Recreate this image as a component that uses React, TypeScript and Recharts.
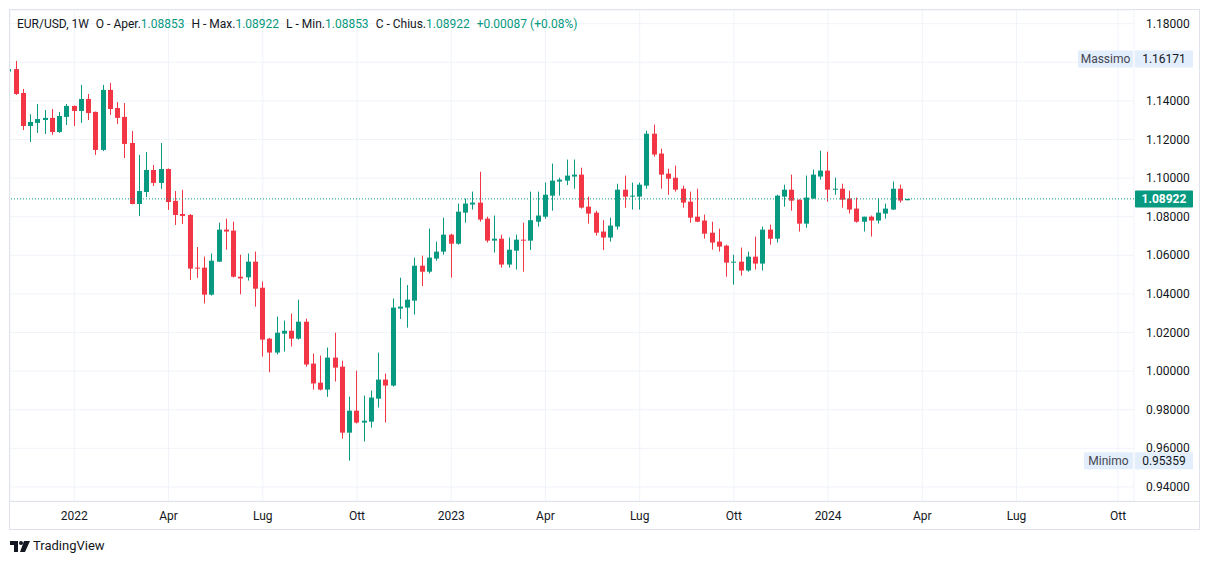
import React from 'react';
import { ComposedChart, Bar, XAxis, YAxis, CartesianGrid, ReferenceLine } from 'recharts';

// Weekly EUR/USD candles, week index 0 = 1 Nov 2021
const opens = [
  1.1552, 1.1565, 1.1441, 1.1270, 1.1286, 1.1301, 1.1312, 1.1239, 1.1317, 1.1374,
  1.1348, 1.1410, 1.1343, 1.1146, 1.1457, 1.1363, 1.1317, 1.1182, 1.0866, 1.0928,
  1.1042, 1.0975, 1.1047, 1.0882, 1.0814, 1.0809, 1.0536, 1.0536, 1.0396, 1.0567,
  1.0733, 1.0728, 1.0489, 1.0486, 1.0567, 1.0432, 1.0168, 1.0096, 1.0194, 1.0209,
  1.0168, 1.0256, 1.0039, 0.9940, 0.9904, 1.0070, 1.0023, 0.9681, 0.9795, 0.9733,
  0.9738, 0.9857, 0.9956, 0.9925, 1.0324, 1.0329, 1.0365, 1.0546, 1.0515, 1.0583,
  1.0619, 1.0707, 1.0660, 1.0821, 1.0863, 1.0873, 1.0790, 1.0676, 1.0686, 1.0552,
  1.0624, 1.0681, 1.0676, 1.0774, 1.0800, 1.0909, 1.0982, 1.0987, 1.1008, 1.1018,
  1.0852, 1.0821, 1.0723, 1.0692, 1.0749, 1.0940, 1.0904, 1.0904, 1.0961, 1.1230,
  1.1127, 1.1023, 1.1002, 1.0945, 1.0878, 1.0800, 1.0780, 1.0717, 1.0671, 1.0650,
  1.0562, 1.0567, 1.0521, 1.0593, 1.0557, 1.0733, 1.0686, 1.0904, 1.0940, 1.0888,
  1.0764, 1.0894, 1.1008, 1.1039, 1.0940, 1.0945, 1.0894, 1.0842, 1.0774, 1.0800,
  1.0780, 1.0816, 1.0837, 1.0945, 1.08853,
];
const highs = [
  1.16171, 1.1607, 1.1462, 1.1331, 1.1384, 1.1353, 1.1358, 1.1343, 1.1384, 1.1376,
  1.1483, 1.1436, 1.1345, 1.1483, 1.1493, 1.1394, 1.1389, 1.1244, 1.1120, 1.1135,
  1.1068, 1.1182, 1.1050, 1.0933, 1.0939, 1.0814, 1.0643, 1.0593, 1.0609, 1.0769,
  1.0790, 1.0774, 1.0603, 1.0609, 1.0619, 1.0464, 1.0172, 1.0282, 1.0262, 1.0298,
  1.0370, 1.0272, 1.0091, 1.0080, 1.0122, 1.0199, 1.0054, 0.9868, 1.0002, 0.9873,
  0.9899, 1.0096, 0.9987, 1.0376, 1.0484, 1.0446, 1.0588, 1.0598, 1.0738, 1.0671,
  1.0795, 1.0712, 1.0868, 1.0894, 1.0930, 1.1033, 1.0800, 1.0806, 1.0707, 1.0692,
  1.0707, 1.0769, 1.0930, 1.0930, 1.0977, 1.1075, 1.1002, 1.1096, 1.1096, 1.1054,
  1.0904, 1.0831, 1.0782, 1.0795, 1.0971, 1.1013, 1.0977, 1.0977, 1.1246, 1.1277,
  1.1153, 1.1049, 1.1065, 1.0961, 1.0930, 1.0945, 1.0811, 1.0774, 1.0738, 1.0655,
  1.0603, 1.0640, 1.0619, 1.0697, 1.0749, 1.0759, 1.0914, 1.0966, 1.1018, 1.0890,
  1.1013, 1.1044, 1.1142, 1.1137, 1.1002, 1.0971, 1.0935, 1.0899, 1.0800, 1.0806,
  1.0894, 1.0868, 1.0982, 1.0966, 1.08922,
];
const lows = [
  1.1513, 1.1431, 1.1249, 1.1187, 1.1234, 1.1229, 1.1224, 1.1234, 1.1275, 1.1270,
  1.1286, 1.1301, 1.1120, 1.1140, 1.1327, 1.1280, 1.1104, 1.0864, 1.0804, 1.0902,
  1.0959, 1.0944, 1.0835, 1.0757, 1.0762, 1.0472, 1.0483, 1.0350, 1.0391, 1.0565,
  1.0629, 1.0485, 1.0398, 1.0469, 1.0334, 1.0075, 0.9994, 1.0086, 1.0101, 1.0127,
  1.0163, 1.0023, 0.9904, 0.9900, 0.9866, 0.9946, 0.9650, 0.95359, 0.9728, 0.9635,
  0.9707, 0.9811, 0.9733, 0.9920, 1.0270, 1.0225, 1.0293, 1.0441, 1.0506, 1.0572,
  1.0603, 1.0484, 1.0655, 1.0769, 1.0837, 1.0774, 1.0666, 1.0614, 1.0536, 1.0536,
  1.0526, 1.0515, 1.0627, 1.0749, 1.0790, 1.0831, 1.0909, 1.0964, 1.0945, 1.0842,
  1.0764, 1.0702, 1.0627, 1.0671, 1.0733, 1.0847, 1.0837, 1.0837, 1.0945, 1.1111,
  1.0945, 1.0914, 1.0930, 1.0847, 1.0769, 1.0772, 1.0686, 1.0629, 1.0619, 1.0489,
  1.0448, 1.0495, 1.0515, 1.0526, 1.0521, 1.0655, 1.0666, 1.0852, 1.0831, 1.0723,
  1.0743, 1.0893, 1.0992, 1.0878, 1.0914, 1.0847, 1.0816, 1.0769, 1.0723, 1.0697,
  1.0764, 1.0790, 1.0835, 1.0873, 1.08853,
];
const closes = [
  1.1565, 1.1436, 1.1270, 1.1291, 1.1306, 1.1312, 1.1239, 1.1322, 1.1374, 1.1348,
  1.1410, 1.1337, 1.1146, 1.1457, 1.1358, 1.1312, 1.1177, 1.0866, 1.0933, 1.1042,
  1.0975, 1.1047, 1.0876, 1.0809, 1.0804, 1.0531, 1.0531, 1.0396, 1.0572, 1.0733,
  1.0723, 1.0489, 1.0480, 1.0567, 1.0427, 1.0163, 1.0096, 1.0199, 1.0209, 1.0168,
  1.0256, 1.0034, 0.9936, 0.9904, 1.0070, 1.0018, 0.9681, 0.9795, 0.9733, 0.9743,
  0.9863, 0.9956, 0.9925, 1.0329, 1.0334, 1.0370, 1.0546, 1.0515, 1.0588, 1.0619,
  1.0707, 1.0660, 1.0826, 1.0868, 1.0873, 1.0785, 1.0676, 1.0686, 1.0552, 1.0629,
  1.0681, 1.0676, 1.0782, 1.0806, 1.0914, 1.0987, 1.0992, 1.1013, 1.1018, 1.0847,
  1.0816, 1.0717, 1.0692, 1.0754, 1.0940, 1.0904, 1.0909, 1.0966, 1.1230, 1.1122,
  1.1018, 1.0997, 1.0940, 1.0873, 1.0795, 1.0774, 1.0712, 1.0666, 1.0645, 1.0562,
  1.0567, 1.0521, 1.0593, 1.0557, 1.0733, 1.0686, 1.0909, 1.0940, 1.0883, 1.0764,
  1.0899, 1.1018, 1.1039, 1.0940, 1.0945, 1.0888, 1.0837, 1.0774, 1.0800, 1.0780,
  1.0821, 1.0842, 1.0945, 1.08835, 1.08922,
];

const timeTickIndex = [9, 22, 35, 48, 61, 74, 87, 100, 113, 126, 139, 153];
const timeTickLabels = ['2022', 'Apr', 'Lug', 'Ott', '2023', 'Apr', 'Lug', 'Ott', '2024', 'Apr', 'Lug', 'Ott'];
const priceTicks = [0.94, 0.96, 0.98, 1.0, 1.02, 1.04, 1.06, 1.08, 1.1, 1.12, 1.14, 1.16, 1.18];

const lastPrice = 1.08922;
const maxPrice = 1.16171;
const minPrice = 0.95359;

const legend = [
  { label: 'O - Aper.', value: '1.08853' },
  { label: 'H - Max.', value: '1.08922' },
  { label: 'L - Min.', value: '1.08853' },
  { label: 'C - Chius.', value: '1.08922' },
];
const changeText = '+0.00087 (+0.08%)';

const GREEN = '#089981';
const RED = '#f23645';
const TEXT = '#131722';
const GRID = '#f0f3fa';
const BORDER = '#e0e3eb';
const TAG = '#e3eefc';
const FONT = 'Roboto, "Noto Sans", sans-serif';

const X_DOMAIN: [number, number] = [0.13, 155.2];
const Y_DOMAIN: [number, number] = [0.93269, 1.1871];
const CHART_W = 1191;
const CHART_H = 521;
const MARGIN = { top: 1, right: 1, bottom: 1, left: 1 };

const data = opens.map((o, i) => ({
  i,
  o,
  h: highs[i],
  l: lows[i],
  c: closes[i],
  range: [lows[i], highs[i]],
}));

const Candle = (props: any) => {
  let { x, y, width, height, payload } = props;
  if (x == null || y == null || !payload) return null;
  if (height < 0) {
    y = y + height;
    height = -height;
  }
  const { o, h, l, c } = payload;
  const up = c >= o;
  const color = up ? GREEN : RED;
  const ratio = h - l > 0 ? height / (h - l) : 0;
  const cx = Math.floor(x + width / 2) + 0.5;
  const top = y + (h - Math.max(o, c)) * ratio;
  const bot = y + (h - Math.min(o, c)) * ratio;
  const bodyH = Math.max(1, bot - top);
  return (
    <g>
      <line x1={cx} x2={cx} y1={y} y2={y + height} stroke={color} strokeWidth={1} />
      <rect x={cx - 2.5} y={top} width={5} height={bodyH} fill={color} />
    </g>
  );
};

// price-axis label; a label fully hidden behind the "Massimo" tag is not drawn
const PriceTick = (props: any) => {
  const { x, y, payload, textAnchor } = props;
  const v = payload && payload.value;
  if (v == null) return null;
  if (Math.abs(v - maxPrice) < 0.004) return null;
  return (
    <text x={x} y={y} dy="0.35em" textAnchor={textAnchor || 'start'} fontSize={12} fontFamily={FONT} fill={TEXT}>
      {Number(v).toFixed(5)}
    </text>
  );
};

const makeBox = (value: string, fill: string, color: string, bold: boolean, tag?: string, tagW?: number) =>
  (props: any) => {
    const vb = props.viewBox || {};
    const right = vb.x + vb.width;
    const cy = vb.y;
    const tw = tagW || 55;
    return (
      <g>
        {tag ? <rect x={right - tw - 1} y={cy - 8.5} width={tw} height={17} fill={TAG} rx={1} /> : null}
        {tag ? (
          <text x={right - 1 - tw / 2} y={cy} dy="0.35em" textAnchor="middle" fontSize={12} fontFamily={FONT} fill="#434651">
            {tag}
          </text>
        ) : null}
        <rect x={right + 1} y={cy - 8.5} width={58} height={17} fill={fill} rx={1} />
        <text
          x={right + 30}
          y={cy}
          dy="0.35em"
          textAnchor="middle"
          fontSize={12}
          fontFamily={FONT}
          fontWeight={bold ? 700 : 400}
          fill={color}
        >
          {value}
        </text>
      </g>
    );
  };

const Logo = () => (
  <svg width={20} height={11} viewBox="0 0 20 11" style={{ position: 'absolute', left: 2, top: 533 }}>
    <path d="M0 0 H8 V11 H4 V4 H0 Z" fill={TEXT} />
    <circle cx={11} cy={2} r={2} fill={TEXT} />
    <path d="M14 0 H20 L15 11 H10 Z" fill={TEXT} />
  </svg>
);

export default function App() {
  return (
    <div style={{ position: 'relative', width: 1193, height: 548, fontFamily: FONT, color: TEXT }}>
      {/* main chart: grid, axes, candles, dotted last-price line */}
      <div style={{ position: 'absolute', left: 1, top: 1 }}>
        <ComposedChart width={CHART_W} height={CHART_H} data={data} margin={MARGIN}>
          <CartesianGrid stroke={GRID} />
          <XAxis
            dataKey="i"
            type="number"
            domain={X_DOMAIN}
            allowDataOverflow
            ticks={timeTickIndex}
            interval={0}
            tickFormatter={(v: number) => timeTickLabels[timeTickIndex.indexOf(v)]}
            height={28}
            tickSize={0}
            tickMargin={10}
            axisLine={false}
            tickLine={false}
            tick={{ fill: TEXT, fontSize: 12, fontFamily: FONT }}
          />
          <YAxis
            orientation="right"
            type="number"
            domain={Y_DOMAIN}
            allowDataOverflow
            ticks={priceTicks}
            interval={0}
            width={65}
            tickSize={0}
            tickMargin={12}
            axisLine={false}
            tickLine={false}
            tick={(p: any) => <PriceTick {...p} />}
          />
          <Bar dataKey="range" barSize={5} isAnimationActive={false} shape={(p: any) => <Candle {...p} />} />
          <ReferenceLine y={lastPrice} stroke={GREEN} strokeDasharray="1 2" />
        </ComposedChart>
      </div>
      {/* overlay chart with the same scales: price tags drawn above the axis labels */}
      <div style={{ position: 'absolute', left: 1, top: 1, pointerEvents: 'none' }}>
        <ComposedChart width={CHART_W} height={CHART_H} data={data} margin={MARGIN}>
          <XAxis
            dataKey="i"
            type="number"
            domain={X_DOMAIN}
            allowDataOverflow
            height={28}
            tick={false}
            axisLine={false}
            tickLine={false}
          />
          <YAxis
            orientation="right"
            type="number"
            domain={Y_DOMAIN}
            allowDataOverflow
            width={65}
            tick={false}
            axisLine={false}
            tickLine={false}
          />
          <ReferenceLine
            y={lastPrice}
            stroke="none"
            strokeOpacity={0}
            label={makeBox(lastPrice.toFixed(5), GREEN, '#ffffff', true)}
          />
          <ReferenceLine
            y={maxPrice}
            stroke="none"
            strokeOpacity={0}
            label={makeBox(maxPrice.toFixed(5), TAG, TEXT, false, 'Massimo', 55)}
          />
          <ReferenceLine
            y={minPrice}
            stroke="none"
            strokeOpacity={0}
            label={makeBox(minPrice.toFixed(5), TAG, TEXT, false, 'Minimo', 49)}
          />
        </ComposedChart>
      </div>
      <div
        style={{
          position: 'absolute',
          left: 1,
          top: 1,
          width: CHART_W,
          height: CHART_H,
          boxSizing: 'border-box',
          border: `1px solid ${BORDER}`,
          pointerEvents: 'none',
        }}
      />
      <div style={{ position: 'absolute', left: 1, top: 493, width: CHART_W, height: 1, background: BORDER }} />
      <div
        style={{
          position: 'absolute',
          left: 9,
          top: 8,
          fontSize: 12,
          lineHeight: '16px',
          whiteSpace: 'nowrap',
          display: 'flex',
          gap: 7,
        }}
      >
        <span>EUR/USD, 1W</span>
        {legend.map((d) => (
          <span key={d.label}>
            {d.label}
            <span style={{ color: GREEN }}>{d.value}</span>
          </span>
        ))}
        <span style={{ color: GREEN }}>{changeText}</span>
      </div>
      <Logo />
      <div style={{ position: 'absolute', left: 25, top: 529, fontSize: 13, lineHeight: '18px', whiteSpace: 'nowrap' }}>
        TradingView
      </div>
    </div>
  );
}
